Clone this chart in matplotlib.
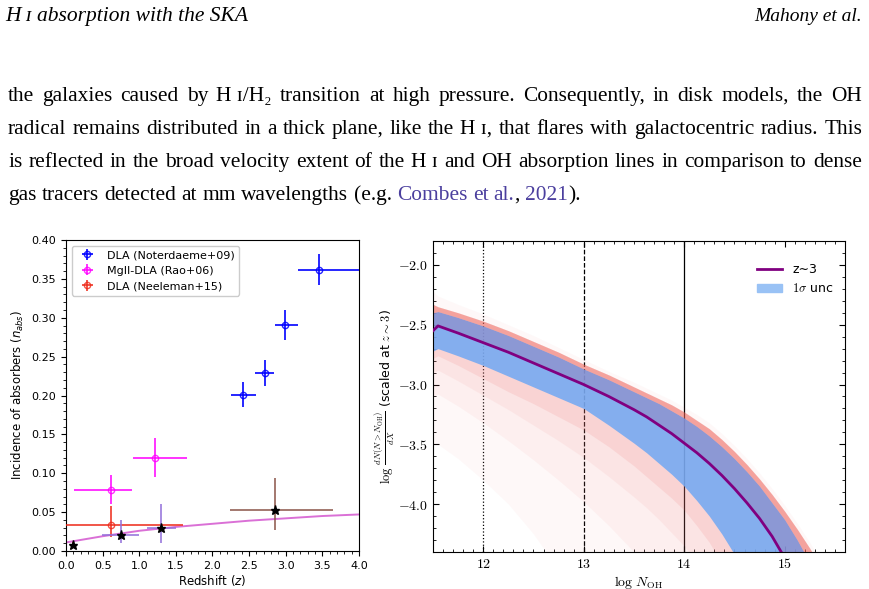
import re
import matplotlib
matplotlib.use('Agg')
import matplotlib.pyplot as plt
from matplotlib.ticker import MultipleLocator, FuncFormatter
from matplotlib.lines import Line2D
from matplotlib.patches import Patch
from matplotlib.font_manager import FontProperties

plt.rcParams['mathtext.fontset'] = 'cm'

# ---------------- page text ----------------
header_left = 'H\u00a0ɪ absorption with the SKA'
header_right = 'Mahony et al.'
para_lines = [
    'the galaxies caused by H\u00a0ɪ/H₂ transition at high pressure. Consequently, in disk models, the OH',
    'radical remains distributed in a thick plane, like the H\u00a0ɪ, that flares with galactocentric radius. This',
    'is reflected in the broad velocity extent of the H\u00a0ɪ and OH absorption lines in comparison to dense',
    'gas tracers detected at mm wavelengths (e.g. {Combes} {et} {al.}, {2021}).',
]
justified = [True, True, True, False]
link_color = '#4b3f9e'

# ---------------- left panel data ----------------
noter_z = [2.42, 2.72, 2.99, 3.45]
noter_n = [0.201, 0.229, 0.291, 0.362]
noter_zlo = [0.17, 0.14, 0.14, 0.28]
noter_zhi = [0.17, 0.12, 0.18, 0.60]
noter_nerr = [0.016, 0.017, 0.019, 0.020]

rao_z = [0.61, 1.22]
rao_n = [0.079, 0.120]
rao_zlo = [0.50, 0.31]
rao_zhi = [0.29, 0.43]
rao_nerr = [0.019, 0.025]

neel_z = [0.62]
neel_n = [0.033]
neel_zlo = [0.62]
neel_zhi = [0.98]
neel_nlo = [0.015]
neel_nhi = [0.025]

star_z = [0.10, 0.75, 1.30, 2.85]
star_n = [0.008, 0.020, 0.030, 0.053]
star_zlo = [0.0, 0.26, 0.20, 0.61]
star_zhi = [0.0, 0.25, 0.20, 0.80]
star_nlo = [0.003, 0.010, 0.020, 0.026]
star_nhi = [0.003, 0.020, 0.030, 0.041]
star_cols = ['tab:red', 'mediumpurple', 'mediumpurple', 'tab:brown']

fit_z = [0.0, 0.25, 0.5, 1.0, 1.5, 2.0, 2.5, 3.0, 3.5, 4.0]
fit_n = [0.011, 0.015, 0.019, 0.026, 0.031, 0.035, 0.039, 0.042, 0.045, 0.047]

# ---------------- right panel data ----------------
logN = [11.5, 11.55, 11.75, 12.0, 12.25, 12.5, 12.75, 13.0, 13.25, 13.5, 13.625, 13.75, 13.875,
        14.0, 14.125, 14.25, 14.375, 14.5, 14.625, 14.75, 14.875, 15.0, 15.125, 15.25, 15.375, 15.5]
median = [-2.55, -2.51, -2.57, -2.65, -2.73, -2.82, -2.91, -3.00, -3.10, -3.21, -3.27, -3.34, -3.41,
          -3.49, -3.57, -3.66, -3.76, -3.87, -3.99, -4.12, -4.27, -4.45, -4.66, -4.90, -5.20, -5.50]
blue_hi = [-2.40, -2.39, -2.44, -2.51, -2.59, -2.68, -2.77, -2.87, -2.96, -3.06, -3.11, -3.16, -3.22,
           -3.28, -3.35, -3.43, -3.52, -3.62, -3.73, -3.85, -3.99, -4.13, -4.30, -4.49, -4.72, -4.95]
blue_lo = [-2.72, -2.70, -2.76, -2.84, -2.93, -3.02, -3.11, -3.20, -3.34, -3.49, -3.57, -3.66, -3.75,
           -3.85, -3.97, -4.10, -4.25, -4.42, -4.62, -4.85, -5.10, -5.40, -6.00, -6.00, -6.00, -6.00]
red_hi = [-2.33, -2.35, -2.40, -2.47, -2.55, -2.64, -2.73, -2.83, -2.92, -3.02, -3.07, -3.12, -3.17,
          -3.23, -3.30, -3.37, -3.46, -3.56, -3.67, -3.79, -3.92, -4.06, -4.21, -4.37, -4.55, -4.75]
red_far_hi = [-2.22, -2.26, -2.33, -2.41, -2.50, -2.59, -2.69, -2.79, -2.89, -2.98, -3.03, -3.08, -3.13,
              -3.19, -3.25, -3.32, -3.41, -3.51, -3.62, -3.74, -3.87, -4.01, -4.16, -4.32, -4.50, -4.70]
red_near_lo = [-2.78, -2.76, -2.84, -2.95, -3.06, -3.16, -3.27, -3.38, -3.52, -3.68, -3.77, -3.86, -3.95,
               -4.05, -4.18, -4.32, -4.50, -4.70, -4.95, -5.30, -6.00, -6.00, -6.00, -6.00, -6.00, -6.00]
red_mid_lo = [-2.90, -2.88, -2.97, -3.09, -3.21, -3.34, -3.47, -3.61, -3.77, -3.94, -4.03, -4.13, -4.24,
              -4.35, -4.49, -4.65, -4.85, -5.10, -6.00, -6.00, -6.00, -6.00, -6.00, -6.00, -6.00, -6.00]
red_low_lo = [-3.10, -3.08, -3.18, -3.32, -3.47, -3.63, -3.80, -3.98, -4.18, -4.40, -4.52, -4.65, -4.80,
              -4.95, -5.15, -5.40, -6.00, -6.00, -6.00, -6.00, -6.00, -6.00, -6.00, -6.00, -6.00, -6.00]
red_far_lo = [-3.50, -3.50, -3.62, -3.80, -4.00, -4.25, -4.55, -4.90, -5.30, -5.80, -6.00, -6.00, -6.00,
              -6.00, -6.00, -6.00, -6.00, -6.00, -6.00, -6.00, -6.00, -6.00, -6.00, -6.00, -6.00, -6.00]
limits = [12, 13, 14]
limit_styles = [':', '--', '-']

W, H = 870, 589
fig = plt.figure(figsize=(W / 100, H / 100), dpi=100)
renderer = fig.canvas.get_renderer()
serif = ['Liberation Serif', 'DejaVu Serif']


def fy(px):
    return 1 - px / H


# header
fig.text(5 / W, fy(21), header_left, family=serif, style='italic', fontsize=15.5, va='baseline')
fig.text(862 / W, fy(21), header_right, family=serif, style='italic', fontsize=14,
         va='baseline', ha='right')


def width_of(s, size):
    t = fig.text(0, 0, s, family=serif, fontsize=size)
    w = t.get_window_extent(renderer).width
    t.remove()
    return w


def place_line(line, y_px, x0, x1, justify, size=15.4):
    words = line.split(' ')
    items = []
    for w in words:
        segs = []
        for p in re.split(r'(\{[^}]*\})', w):
            if not p:
                continue
            if p.startswith('{'):
                segs.append((p[1:-1], link_color))
            else:
                segs.append((p, 'black'))
        texts = []
        for s, c in segs:
            t = fig.text(0, fy(y_px), s, family=serif, fontsize=size, color=c, va='baseline')
            texts.append((t, t.get_window_extent(renderer).width))
        items.append(texts)
    word_w = [sum(w for _, w in it) for it in items]
    if justify:
        gap = (x1 - x0 - sum(word_w)) / (len(items) - 1)
    else:
        gap = width_of('a a', size) - width_of('aa', size)
    x = x0
    for it, ww in zip(items, word_w):
        xx = x
        for t, w in it:
            t.set_x(xx / W)
            xx += w
        x += ww + gap


para_y = [101, 134, 167, 200]
for line, y, j in zip(para_lines, para_y, justified):
    place_line(line, y, 8, 862, j)

# ---------------- left panel ----------------
ax1 = fig.add_axes([66 / W, 1 - 551 / H, 293 / W, 311 / H])
ax1.plot(fit_z, fit_n, color='orchid', lw=1.4, zorder=2)
ax1.errorbar(noter_z, noter_n, xerr=[noter_zlo, noter_zhi], yerr=noter_nerr, fmt='o',
             mfc='none', color='blue', ms=4.5, elinewidth=1.4, alpha=0.85,
             label='DLA (Noterdaeme+09)', zorder=3)
ax1.errorbar(rao_z, rao_n, xerr=[rao_zlo, rao_zhi], yerr=rao_nerr, fmt='o',
             mfc='none', color='magenta', ms=4.5, elinewidth=1.4, alpha=0.8,
             label='MgII-DLA (Rao+06)', zorder=3)
ax1.errorbar(neel_z, neel_n, xerr=[neel_zlo, neel_zhi], yerr=[neel_nlo, neel_nhi], fmt='o',
             mfc='none', color='#ee2a1a', ms=4.5, elinewidth=1.4, alpha=0.8,
             label='DLA (Neeleman+15)', zorder=3)
for i in range(len(star_z)):
    ax1.errorbar([star_z[i]], [star_n[i]], xerr=[[star_zlo[i]], [star_zhi[i]]],
                 yerr=[[star_nlo[i]], [star_nhi[i]]], fmt='none', ecolor=star_cols[i],
                 elinewidth=1.4, alpha=0.8, zorder=3)
ax1.plot(star_z, star_n, '*', color='black', ms=6.5, zorder=4)
ax1.set_xlim(0, 4.0)
ax1.set_ylim(0, 0.40)
ax1.xaxis.set_minor_locator(MultipleLocator(0.1))
ax1.yaxis.set_minor_locator(MultipleLocator(0.01))
ax1.tick_params(labelsize=8)
ax1.set_xlabel('Redshift ($z$)', fontsize=8.5, math_fontfamily='dejavusans', labelpad=2)
ax1.set_ylabel('Incidence of absorbers ($n_{abs}$)', fontsize=8.5,
               math_fontfamily='dejavusans', labelpad=4)
ax1.legend(loc='upper left', fontsize=8, framealpha=1, handletextpad=0.8)

# ---------------- right panel ----------------
ax2 = fig.add_axes([433 / W, 1 - 552 / H, 412 / W, 311 / H])
for xv, ls in zip(limits, limit_styles):
    ax2.axvline(xv, color='black', ls=ls, lw=0.9, zorder=1)
ax2.fill_between(logN, red_far_lo, red_far_hi, color='#f08080', alpha=0.05, lw=0, zorder=2)
ax2.fill_between(logN, red_low_lo, red_hi, color='#f08080', alpha=0.07, lw=0, zorder=2)
ax2.fill_between(logN, red_mid_lo, red_hi, color='#f08080', alpha=0.09, lw=0, zorder=2)
ax2.fill_between(logN, red_near_lo, red_hi, color='#f07070', alpha=0.14, lw=0, zorder=2)
ax2.fill_between(logN, blue_lo, blue_hi, color='#74a9f2', alpha=0.88, lw=0, zorder=2)
ax2.fill_between(logN, median, blue_hi, color='#b04070', alpha=0.2, lw=0, zorder=2)
ax2.fill_between(logN, blue_hi, red_hi, color='#ee5a4c', alpha=0.4, lw=0, zorder=2)
ax2.plot(logN, median, color='purple', lw=2, zorder=3)
ax2.set_xlim(11.5, 15.6)
ax2.set_ylim(-4.4, -1.8)
ax2.xaxis.set_major_locator(MultipleLocator(1))
ax2.xaxis.set_minor_locator(MultipleLocator(0.1))
ax2.yaxis.set_major_locator(MultipleLocator(0.5))
ax2.yaxis.set_minor_locator(MultipleLocator(0.1))
ax2.xaxis.set_major_formatter(FuncFormatter(lambda v, p: r'$%d$' % v))
ax2.yaxis.set_major_formatter(FuncFormatter(lambda v, p: r'$%.1f$' % v))
ax2.tick_params(which='both', direction='in', top=True, right=True, labelsize=10)
ax2.tick_params(which='major', length=4)
ax2.tick_params(which='minor', length=2)
ax2.set_xlabel(r'$\log\,N_{\rm OH}$', fontsize=10, labelpad=2)
ax2.set_ylabel(r'$\log\,\frac{dN(N>N_{\rm OH})}{dX}$ (scaled at $z\sim3$)', fontsize=9,
               labelpad=1)
handles = [Line2D([], [], color='purple', lw=2), Patch(color='#99c2f5')]
ax2.legend(handles, ['z∼3', r'$1\sigma$ unc'], loc='upper right', bbox_to_anchor=(1.0, 0.965),
           frameon=False, prop=FontProperties(size=9, math_fontfamily='cm'))

fig.savefig('out.png', dpi=100)
